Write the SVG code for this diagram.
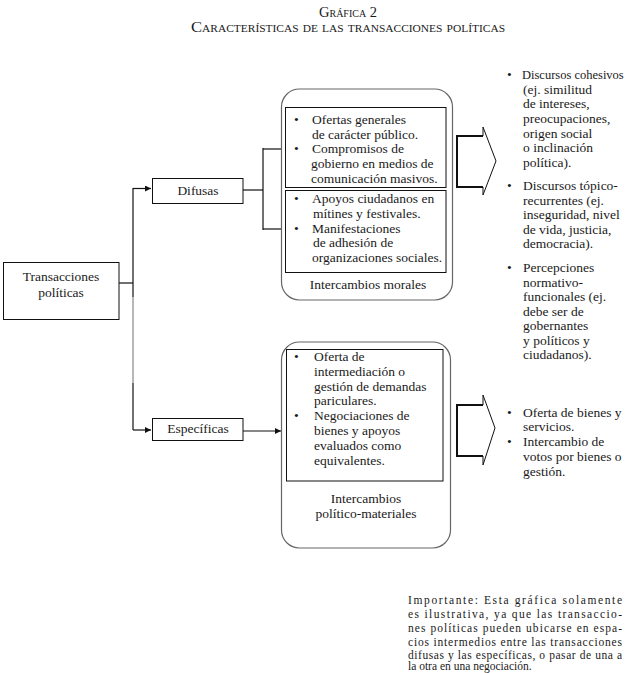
<svg xmlns="http://www.w3.org/2000/svg" width="626" height="673" viewBox="0 0 626 673">
<defs>
<style>
text{font-family:"Liberation Serif","Times New Roman",serif;fill:#1a1a1a;font-size:13.5px}
.t{font-size:14.5px;font-variant:small-caps;text-anchor:middle}
.c{text-anchor:middle}
.box{fill:#fff;stroke:#111;stroke-width:1}
.outer{fill:#fff;stroke:#666;stroke-width:1.2}
.ln{fill:none;stroke:#111;stroke-width:1.2}
.note{font-size:11.5px}
</style>
<marker id="ah" viewBox="0 0 10 10" refX="10" refY="5" markerWidth="9" markerHeight="6" orient="auto" markerUnits="userSpaceOnUse"><path d="M0,0 L10,5 L0,10 Z" fill="#111"/></marker>
</defs>
<rect width="626" height="673" fill="#fff"/>

<g id="title">
<text class="t" x="348" y="17">Gráfica 2</text>
<text class="t" x="348" y="32" textLength="314" lengthAdjust="spacingAndGlyphs">Características de las transacciones políticas</text>
</g>

<g id="connectors">
<line class="ln" x1="119" y1="283" x2="133" y2="283" stroke-width="3"/>
<line class="ln" x1="133" y1="188" x2="133" y2="297"/>
<line class="ln" x1="133" y1="297" x2="133" y2="383" style="stroke:#888"/>
<line class="ln" x1="133" y1="383" x2="133" y2="430"/>
<polyline class="ln" points="133,188.5 151,188.5" marker-end="url(#ah)"/>
<polyline class="ln" points="133,430 151,430" marker-end="url(#ah)"/>
<line class="ln" x1="243" y1="190" x2="263" y2="190"/>
<line class="ln" x1="263" y1="148" x2="263" y2="230" stroke-width="2.5"/>
<polyline class="ln" points="263,149 291,149" marker-end="url(#ah)"/>
<polyline class="ln" points="263,229 291,229" marker-end="url(#ah)"/>
<polyline class="ln" points="243,431 281,431" marker-end="url(#ah)"/>
</g>

<g id="transacciones">
<rect class="box" x="3.5" y="262.5" width="115.5" height="57"/>
<text class="c" x="61" y="281">Transacciones</text>
<text class="c" x="61" y="297">políticas</text>
</g>

<g id="difusas">
<rect class="box" x="152.5" y="178.5" width="90.5" height="25"/>
<text class="c" x="198" y="195">Difusas</text>
</g>

<g id="especificas">
<rect class="box" x="152.5" y="418.5" width="90.5" height="22"/>
<text class="c" x="198" y="433">Específicas</text>
</g>

<g id="morales">
<rect class="outer" x="281.5" y="89" width="171" height="211" rx="18"/>
<rect class="box" x="285.5" y="107.5" width="160.5" height="80"/>
<rect class="box" x="285.5" y="190.5" width="160.5" height="82"/>
<text x="294" y="124">•</text>
<text x="312" y="124">Ofertas generales</text>
<text x="312" y="139">de carácter público.</text>
<text x="294" y="153">•</text>
<text x="312" y="153">Compromisos de</text>
<text x="311" y="168">gobierno en medios de</text>
<text x="311" y="183">comunicación masivos.</text>
<text x="294" y="203">•</text>
<text x="312" y="203">Apoyos ciudadanos en</text>
<text x="313" y="218">mítines y festivales.</text>
<text x="294" y="233">•</text>
<text x="312" y="233">Manifestaciones</text>
<text x="313" y="247">de adhesión de</text>
<text x="312" y="262">organizaciones sociales.</text>
<text class="c" x="368" y="289">Intercambios morales</text>
</g>

<g id="materiales">
<rect class="outer" x="281.5" y="342" width="169" height="206" rx="18"/>
<rect class="box" x="286.5" y="349.5" width="156.5" height="131.5"/>
<text x="294" y="361">•</text>
<text x="314" y="361">Oferta de</text>
<text x="314" y="376">intermediación o</text>
<text x="314" y="391">gestión de demandas</text>
<text x="314" y="405">pariculares.</text>
<text x="294" y="420">•</text>
<text x="314" y="420">Negociaciones de</text>
<text x="314" y="435">bienes y apoyos</text>
<text x="314" y="450">evaluados como</text>
<text x="314" y="465">equivalentes.</text>
<text class="c" x="366" y="503">Intercambios</text>
<text class="c" x="366" y="518">político-materiales</text>
</g>

<g id="arrow-morales">
<polyline points="483,136 457,136 457,187 483,187" fill="none" stroke="#111" stroke-width="2"/>
<polyline points="483,136 483,127 496,161 483,195 483,187" fill="none" stroke="#111" stroke-width="1"/>
</g>

<g id="arrow-materiales">
<polyline points="483,405 457,405 457,456 483,456" fill="none" stroke="#111" stroke-width="2"/>
<polyline points="483,405 483,395 495,428 483,465 483,456" fill="none" stroke="#111" stroke-width="1"/>
</g>

<g id="lista-morales">
<text x="507" y="79">•</text>
<text x="522" y="79" style="font-size:12.5px">Discursos cohesivos</text>
<text x="523" y="94">(ej. similitud</text>
<text x="523" y="108">de intereses,</text>
<text x="523" y="123">preocupaciones,</text>
<text x="523" y="138">origen social</text>
<text x="523" y="152">o inclinación</text>
<text x="523" y="167">política).</text>
<text x="507" y="190">•</text>
<text x="523" y="190">Discursos tópico-</text>
<text x="523" y="205">recurrentes (ej.</text>
<text x="523" y="219">inseguridad, nivel</text>
<text x="523" y="234">de vida, justicia,</text>
<text x="523" y="248">democracia).</text>
<text x="507" y="272">•</text>
<text x="523" y="272">Percepciones</text>
<text x="523" y="287">normativo-</text>
<text x="523" y="301">funcionales (ej.</text>
<text x="523" y="316">debe ser de</text>
<text x="523" y="330">gobernantes</text>
<text x="523" y="345">y políticos y</text>
<text x="523" y="359">ciudadanos).</text>
</g>

<g id="lista-materiales">
<text x="507" y="417">•</text>
<text x="523" y="417">Oferta de bienes y</text>
<text x="523" y="431">servicios.</text>
<text x="507" y="446">•</text>
<text x="523" y="446">Intercambio de</text>
<text x="523" y="461">votos por bienes o</text>
<text x="523" y="476">gestión.</text>
</g>

<g id="nota">
<text class="note" x="408" y="604" textLength="214" lengthAdjust="spacing">Importante: Esta gráfica solamente</text>
<text class="note" x="408" y="618" textLength="214" lengthAdjust="spacing">es ilustrativa, ya que las transaccio-</text>
<text class="note" x="408" y="632" textLength="214" lengthAdjust="spacing">nes políticas pueden ubicarse en espa-</text>
<text class="note" x="408" y="646" textLength="214" lengthAdjust="spacing">cios intermedios entre las transacciones</text>
<text class="note" x="408" y="659" textLength="214" lengthAdjust="spacing">difusas y las específicas, o pasar de una a</text>
<text class="note" x="408" y="670">la otra en una negociación.</text>
</g>
</svg>
